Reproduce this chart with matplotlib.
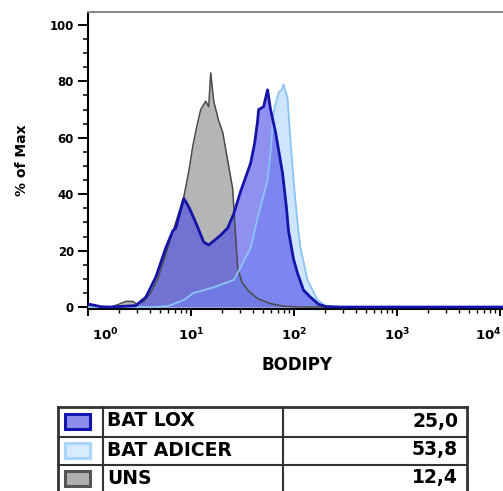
import matplotlib
matplotlib.use("Agg")
import matplotlib.pyplot as plt
import matplotlib.transforms as mtransforms
from matplotlib.lines import Line2D
from matplotlib.patches import Rectangle
from matplotlib.ticker import FixedLocator, MultipleLocator, LogLocator, NullFormatter

# BODIPY intensity (x) and % of max (y)
lox_x = [1.02, 1.195, 1.336, 1.67, 2.91, 3.64, 4.55, 5.69, 6.65, 7.11, 7.60, 8.50, 9.50,
         11.10, 13.27, 14.84, 17.34, 19.39, 22.66, 25.91, 30.28, 37.85, 41.38, 44.23,
         45.23, 50.56, 55.27, 59.09, 66.06, 77.22, 84.42, 88.27, 98.67, 107.9, 123.3,
         144.1, 172.3, 201.4, 278.2, 10640]
lox_y = [1.0, 0.5, 0.1, 0, 0.5, 3.5, 10.6, 21, 27, 28, 32, 38.5, 35.5,
         30, 23, 22, 24, 25.5, 28, 33, 41, 51, 58, 66,
         70, 71, 77, 70, 62, 47.5, 35, 27, 17, 12, 6,
         3.5, 1, 0.2, 0, 0]

adicer_x = [1.02, 4.07, 5.95, 8.50, 10.62, 16.59, 25.91, 30.28, 35.40, 37.85, 45.23,
            55.27, 59.09, 63.18, 66.06, 70.63, 75.51, 78.96, 86.32, 92.30, 98.67,
            107.9, 115.3, 134.8, 168.5, 201.4, 248.9, 10640]
adicer_y = [0, 0, 0.3, 2.5, 5, 7, 9.6, 14, 19, 21, 33,
            45, 55, 69, 72, 76, 77, 79, 74, 59, 45,
            30, 21, 9.6, 2.5, 0.5, 0, 0]

uns_x = [1.02, 1.67, 2.0, 2.33, 2.73, 2.98, 3.48, 4.07, 4.76, 5.95, 7.11, 8.50, 9.50,
         10.39, 11.36, 12.42, 13.88, 14.84, 15.51, 16.59, 18.54, 20.27, 22.66, 25.33,
         27.09, 28.33, 30.97, 35.40, 44.23, 59.09, 78.96, 115.3, 10640]
uns_y = [0.3, 0, 1, 2, 2, 1, 2, 5, 10, 21, 30, 39, 48,
         57, 64, 70, 73, 71, 83, 73, 66, 62, 52, 42,
         25, 14, 9, 6, 3, 1.2, 0.3, 0, 0]

sample_names = ["BAT LOX", "BAT ADICER", "UNS"]
sample_values = ["25,0", "53,8", "12,4"]

W, H = 503, 491


def fx(px):
    return px / W


def fy(py):
    return 1 - py / H


fig = plt.figure(figsize=(W / 100, H / 100), dpi=100)
ax = fig.add_axes([fx(88), fy(309), fx(503) - fx(88), fy(12) - fy(309)])

# fills first, outlines on top
ax.fill_between(uns_x, uns_y, 0, color="#b5b5b5", lw=0, zorder=1)
ax.fill_between(adicer_x, adicer_y, 0, color=(172/255, 213/255, 1.0), alpha=0.6, lw=0, zorder=2)
ax.fill_between(lox_x, lox_y, 0, color=(70/255, 70/255, 230/255), alpha=0.6, lw=0, zorder=3)
ax.plot(uns_x, uns_y, color="#4a4a4a", lw=1.1, zorder=4)
ax.plot(adicer_x, adicer_y, color="#8cc4f5", lw=1.3, zorder=5)
ax.plot(lox_x, lox_y, color="#1414a8", lw=2.0, zorder=6)

ax.set_xscale("log")
ax.set_xlim(10 ** (1 / 103.3), 10 ** (416 / 103.3))
ax.set_ylim(-0.7, 104.6)

ax.spines["right"].set_visible(False)
ax.spines["top"].set_color("#8a8a8a")
for s in ["top", "left", "bottom"]:
    ax.spines[s].set_linewidth(1.5)

ax.yaxis.set_major_locator(MultipleLocator(20))
ax.yaxis.set_minor_locator(MultipleLocator(5))
ax.tick_params(axis="y", which="major", direction="out", length=7, width=1.4, pad=3,
               labelsize=8.5)
ax.tick_params(axis="y", which="minor", direction="out", length=3.5, width=1.1)
for lab in ax.get_yticklabels():
    lab.set_fontweight("bold")

xt = [1, 10, 100, 1000, 10000]
ax.xaxis.set_major_locator(FixedLocator(xt))
ax.xaxis.set_minor_locator(LogLocator(base=10, subs=range(2, 10)))
ax.xaxis.set_minor_formatter(NullFormatter())
ax.set_xticks(xt, [r"$\mathbf{10^{%d}}$" % i for i in range(5)])
ax.tick_params(axis="x", which="major", direction="out", length=5, width=1.4, pad=8,
               labelsize=9.5)
ax.tick_params(axis="x", which="minor", direction="out", length=3, width=1.0)

ticks = ax.xaxis.get_major_ticks()
lab0 = ticks[0].label1
lab0.set_transform(lab0.get_transform() + mtransforms.ScaledTranslation(17 / 100, 0, fig.dpi_scale_trans))
lab4 = ticks[4].label1
lab4.set_transform(lab4.get_transform() + mtransforms.ScaledTranslation(-12 / 100, 0, fig.dpi_scale_trans))

fig.text(fx(22), fy(160), "% of Max", rotation=90, ha="center", va="center",
         fontsize=10, fontweight="bold")
fig.text(fx(297), fy(365), "BODIPY", ha="center", va="center",
         fontsize=12, fontweight="bold")

# legend table under the plot
left, right = 58, 467
col1, col2 = 103, 283
row_lines = [407, 437, 465]
bottom = 493
for y in row_lines:
    lw = 2.0 if y == row_lines[0] else 1.5
    fig.add_artist(Line2D([fx(left), fx(right)], [fy(y), fy(y)], color="#333333", lw=lw))
for x in [left, col1, col2, right]:
    lw = 2.0 if x in (left, right) else 1.5
    fig.add_artist(Line2D([fx(x), fx(x)], [fy(row_lines[0]), fy(bottom)], color="#333333", lw=lw))

swatch_face = [(140/255, 140/255, 235/255), "#d8ecff", "#b0b0b0"]
swatch_edge = ["#1414b0", "#a8d6ff", "#555555"]
row_centers = [421, 450, 478]
for name, val, fc, ec, yc in zip(sample_names, sample_values, swatch_face, swatch_edge, row_centers):
    fig.add_artist(Rectangle((fx(65), fy(yc + 7.5)), fx(25), 15 / H,
                             facecolor=fc, edgecolor=ec, lw=2.2))
    fig.text(fx(107), fy(yc), name, ha="left", va="center", fontsize=13.5, fontweight="bold")
    fig.text(fx(458), fy(yc), val, ha="right", va="center", fontsize=13.5, fontweight="bold")

fig.savefig("out.png", dpi=100)
